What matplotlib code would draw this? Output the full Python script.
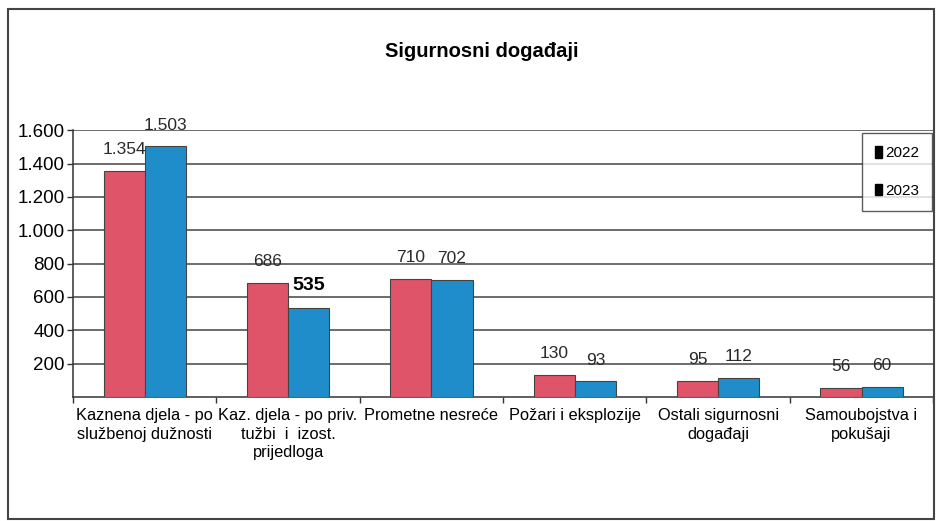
import matplotlib.pyplot as plt
from matplotlib import ticker
from matplotlib.patches import Patch, Rectangle
import numpy as np

# Data
categories = [
    "Kaznena djela - po\nslužbenoj dužnosti",
    "Kaz. djela - po priv.\ntužbi  i  izost.\nprijedloga",
    "Prometne nesreće",
    "Požari i eksplozije",
    "Ostali sigurnosni\ndogađaji",
    "Samoubojstva i\npokušaji",
]
values_2022 = [1354, 686, 710, 130, 95, 56]
values_2023 = [1503, 535, 702, 93, 112, 60]
series_names = ["2022", "2023"]

red = "#DF5469"
blue = "#1F8DC9"
plt.rcParams["font.family"] = ["Liberation Sans", "DejaVu Sans"]


def dot_thousands(v, pos=None):
    return f"{int(v):,}".replace(",", ".")


fig = plt.figure(figsize=(9.36, 5.21), dpi=100)
ax = fig.add_axes([0.078, 0.238, 0.919, 0.512])

x = np.arange(len(categories))
width = 0.287
b1 = ax.bar(x - width / 2, values_2022, width, color=red, edgecolor="#444444", linewidth=0.8, zorder=3)
b2 = ax.bar(x + width / 2, values_2023, width, color=blue, edgecolor="#444444", linewidth=0.8, zorder=3)

for rects in (b1, b2):
    labels = ax.bar_label(rects, labels=[dot_thousands(r.get_height()) for r in rects],
                          padding=10, fontsize=12.5, color="#2a2a2a", zorder=4)
    for t in labels:
        if t.get_text() == "535":
            t.set_fontweight("bold")
            t.set_fontsize(14)
            t.set_color("black")

ax.set_xlim(-0.5, len(categories) - 0.5)
ax.set_ylim(0, 1600)
ax.set_yticks(np.arange(200, 1601, 200))
ax.yaxis.set_major_formatter(ticker.FuncFormatter(dot_thousands))
ax.tick_params(axis="y", labelsize=13.5, length=4, width=1, color="#333333", pad=2)

# category labels centered, ticks at the category boundaries
ax.set_xticks(x)
ax.set_xticklabels(categories, fontsize=11.8, linespacing=1.3)
ax.tick_params(axis="x", which="major", length=0, pad=8)
ax.set_xticks(np.arange(-0.5, len(categories)), minor=True)
ax.tick_params(axis="x", which="minor", length=4, width=1, color="#333333")

ax.grid(axis="y", color="#444444", linewidth=1.1, zorder=0)
ax.set_axisbelow(True)
for side in ("top", "right"):
    ax.spines[side].set_visible(False)
for side in ("left", "bottom"):
    ax.spines[side].set_color("#333333")
    ax.spines[side].set_linewidth(1.1)

handles = [Patch(facecolor="black", edgecolor="black"), Patch(facecolor="black", edgecolor="black")]
leg = ax.legend(handles, series_names, loc="upper right", bbox_to_anchor=(0.999, 0.99),
                fontsize=11, frameon=True, fancybox=False,
                handlelength=0.5, handleheight=0.8, handletextpad=0.2, labelspacing=1.55,
                borderpad=0.85, borderaxespad=0)
leg.get_frame().set_edgecolor("#333333")
leg.get_frame().set_linewidth(1.0)
leg.set_zorder(5)

fig.text(0.515, 0.902, "Sigurnosni događaji", ha="center", va="center",
         fontsize=14.5, fontweight="bold")

# outer chart frame
fig.patches.append(Rectangle((0.009, 0.004), 0.989, 0.978, transform=fig.transFigure,
                             fill=False, edgecolor="#444444", linewidth=1.5))

fig.savefig("out.png", dpi=100)
